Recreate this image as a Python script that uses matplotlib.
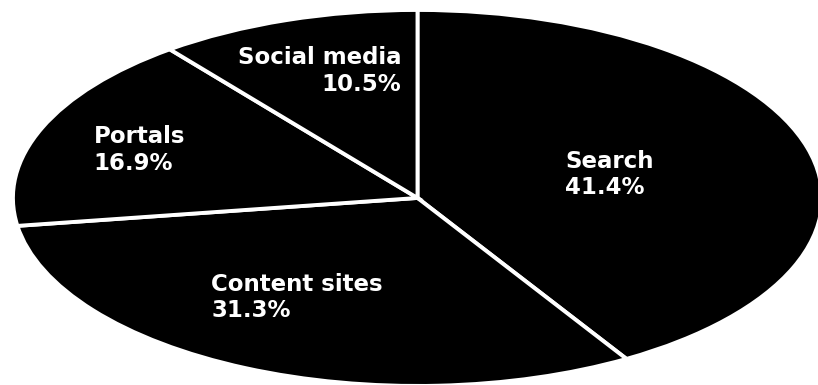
import matplotlib
matplotlib.use("Agg")
import matplotlib.pyplot as plt

# share of traffic by source
labels = ["Search", "Content sites", "Portals", "Social media"]
shares = [41.4, 31.3, 16.9, 10.5]

# label anchors (data coords) and alignment
label_pos = [(0.365, 0.125), (-0.51, -0.53), (-0.80, 0.255), (-0.04, 0.675)]
label_ha = ["left", "left", "left", "right"]

fig = plt.figure(figsize=(8.18, 3.85), dpi=100)
ax = fig.add_axes([0, 0, 1, 1])

ax.pie(shares, startangle=90, counterclock=False, colors=["black"] * len(shares),
       wedgeprops=dict(edgecolor="white", linewidth=2.8))
ax.set_aspect("auto")
ax.set_xlim(-1.032, 0.99)
ax.set_ylim(-0.995, 1.053)
ax.axis("off")

for lab, val, (x, y), ha in zip(labels, shares, label_pos, label_ha):
    ax.text(x, y, f"{lab}\n{val:.1f}%", color="white", fontsize=16.5, fontweight="bold",
            ha=ha, va="center", multialignment=ha, linespacing=1.2)

fig.savefig("out.png", dpi=100)
